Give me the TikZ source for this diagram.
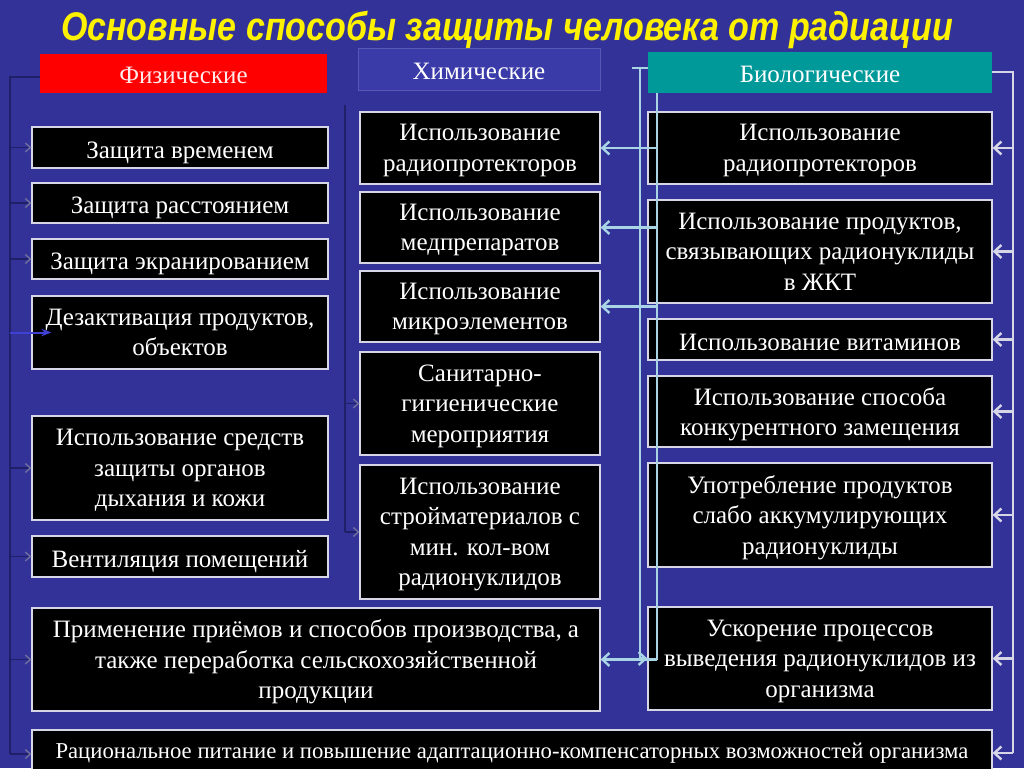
\documentclass[tikz,border=0pt]{standalone}
\usepackage{fontspec}
\setmainfont{Liberation Serif}
\newfontfamily\headfont[FakeStretch=0.85]{Liberation Sans}
\usepackage{xcolor}
\usepackage{tikz}
\usetikzlibrary{arrows.meta,positioning,calc}

\definecolor{bgblue}{RGB}{50,50,152}
\definecolor{boxedge}{RGB}{214,214,230}
\definecolor{bioblue}{RGB}{168,212,230}
\definecolor{busdark}{RGB}{32,32,104}
\definecolor{tipgray}{RGB}{110,110,160}
\definecolor{fizred}{RGB}{255,0,0}
\definecolor{himblue}{RGB}{58,58,168}
\definecolor{bioteal}{RGB}{0,153,153}
\definecolor{arrblue}{RGB}{64,64,210}

\begin{document}
\begin{tikzpicture}[x=1pt, y=-1pt,
  item/.style={rectangle, draw=boxedge, line width=1.3pt, fill=black, text=white, align=center, inner xsep=2pt, inner ysep=0.5pt, font=\fontsize{25}{30.5}\selectfont, execute at begin node=\strut, text depth=0pt},
  head/.style={rectangle, text=white, align=center, inner sep=2pt, font=\fontsize{25}{30.5}\selectfont, execute at begin node={\rule{0pt}{20pt}}, text depth=0pt},
  bioarr/.style={-{Straight Barb[length=7pt, width=13pt]}, line width=2.4pt, bioblue},
  bioline/.style={line width=2.4pt, bioblue},
  darkline/.style={line width=1.6pt, busdark},
  darkarr/.style={-{Straight Barb[length=5pt, width=9pt, color=tipgray]}, line width=1.4pt, busdark}
]

\useasboundingbox (0,0) rectangle (1024,768);
\fill[bgblue] (0,0) rectangle (1024,768);

% Title
\node[text=yellow, font=\headfont\bfseries\itshape\fontsize{40}{46}\selectfont] (title) at (507,30) {Основные способы защиты человека от радиации};

% Headers
\node[head, fill=fizred, text=red!8, minimum width=287, minimum height=39] (fiz) at (183.5,73.5) {Физические};
\node[head, fill=himblue, draw=himblue!85!white, line width=0.8pt, minimum width=242, minimum height=42] (him) at (479,69) {Химические};
\node[head, fill=bioteal, minimum width=344, minimum height=41] (bio) at (820,72.5) {Биологические};

% Physical column
\node[item, minimum width=296, minimum height=41] (tvrem) at (180,147.5) {Защита временем};
\node[item, minimum width=296, minimum height=40] (rasst) at (180,203) {Защита расстоянием};
\node[item, minimum width=296, minimum height=40] (ekran) at (180,259) {Защита экранированием};
\node[item, minimum width=296, minimum height=73] (dezakt) at (180,332.5) {Дезактивация продуктов,\\объектов};
\node[item, minimum width=296, minimum height=104] (sredstv) at (180,468) {Использование средств\\защиты органов\\дыхания и кожи};
\node[item, minimum width=296, minimum height=41] (vent) at (180,556.5) {Вентиляция помещений};
\node[item, minimum width=568, minimum height=103] (primen) at (316,659.5) {Применение приёмов и способов производства, а\\также переработка сельскохозяйственной\\продукции};
\node[item, minimum width=960, minimum height=48, font=\fontsize{22.7}{28}\selectfont, text depth=10.6pt] (racion) at (512,754) {Рациональное питание и повышение адаптационно-компенсаторных возможностей организма};

% Chemical column
\node[item, minimum width=240, minimum height=72] (radio) at (480,148) {Использование\\радиопротекторов};
\node[item, minimum width=240, minimum height=71] (medprep) at (480,227.5) {Использование\\медпрепаратов};
\node[item, minimum width=240, minimum height=71] (mikro) at (480,306.5) {Использование\\микроэлементов};
\node[item, minimum width=240, minimum height=103] (sanit) at (480,403.5) {Санитарно-\\гигиенические\\мероприятия};
\node[item, minimum width=240, minimum height=134] (stroy) at (480,532) {Использование\\стройматериалов с\\мин. кол-вом\\радионуклидов};

% Biological column
\node[item, minimum width=344, minimum height=72] (bradio) at (820,148) {Использование\\радиопротекторов};
\node[item, minimum width=344, minimum height=103] (bprod) at (820,251.5) {Использование продуктов,\\связывающих радионуклиды\\в ЖКТ};
\node[item, minimum width=344, minimum height=41] (bvit) at (820,339.5) {Использование витаминов};
\node[item, minimum width=344, minimum height=71] (bkonk) at (820,411.5) {Использование способа\\конкурентного замещения};
\node[item, minimum width=344, minimum height=104] (bslab) at (820,515) {Употребление продуктов\\слабо аккумулирующих\\радионуклиды};
\node[item, minimum width=344, minimum height=103] (bvyv) at (820,658.5) {Ускорение процессов\\выведения радионуклидов из\\организма};

% Physical bus (dark, left edge)
\coordinate (ftop) at (10,77);
\coordinate (fbot) at (10,754);
\draw[darkline] (fiz.west |- ftop) -- (ftop) -- (fbot);
\foreach \n in {tvrem,rasst,ekran,sredstv,vent,primen,racion}
  \draw[darkarr] (ftop |- \n.west) -- (\n.west);
\draw[-{Stealth[length=10pt]}, line width=2pt, arrblue] (ftop |- dezakt.west) -- ([xshift=20pt]dezakt.west);

% Chemical bus (dark)
\coordinate (htop) at (345,105);
\coordinate (hbot) at (345,532);
\draw[darkline] (htop) -- (hbot);
\foreach \n in {sanit,stroy}
  \draw[darkarr] (htop |- \n.west) -- (\n.west);

% Biological buses
\coordinate (bstub) at (632,68);
\coordinate (bleft) at (640,68);
\coordinate (binner) at (657,93);
\draw[bioline] (bstub) -- (bio.west |- bstub);
\draw[bioarr] (bleft) |- (bvyv.west);
\draw[bioline] (binner) -- (binner |- primen.east);
\foreach \n in {radio,medprep,mikro,primen}
  \draw[bioarr] (binner |- \n.east) -- (\n.east);

\coordinate (rtop) at (1013,72);
\coordinate (rbot) at (1013,753);
\draw[bioline, boxedge] (bio.east |- rtop) -- (rtop) -- (rbot);
\foreach \n in {bradio,bprod,bvit,bkonk,bslab,bvyv}
  \draw[bioarr, boxedge] (rtop |- \n.east) -- (\n.east);
\draw[bioarr, boxedge] (rbot) -- (rbot -| racion.east);

\end{tikzpicture}
\end{document}
